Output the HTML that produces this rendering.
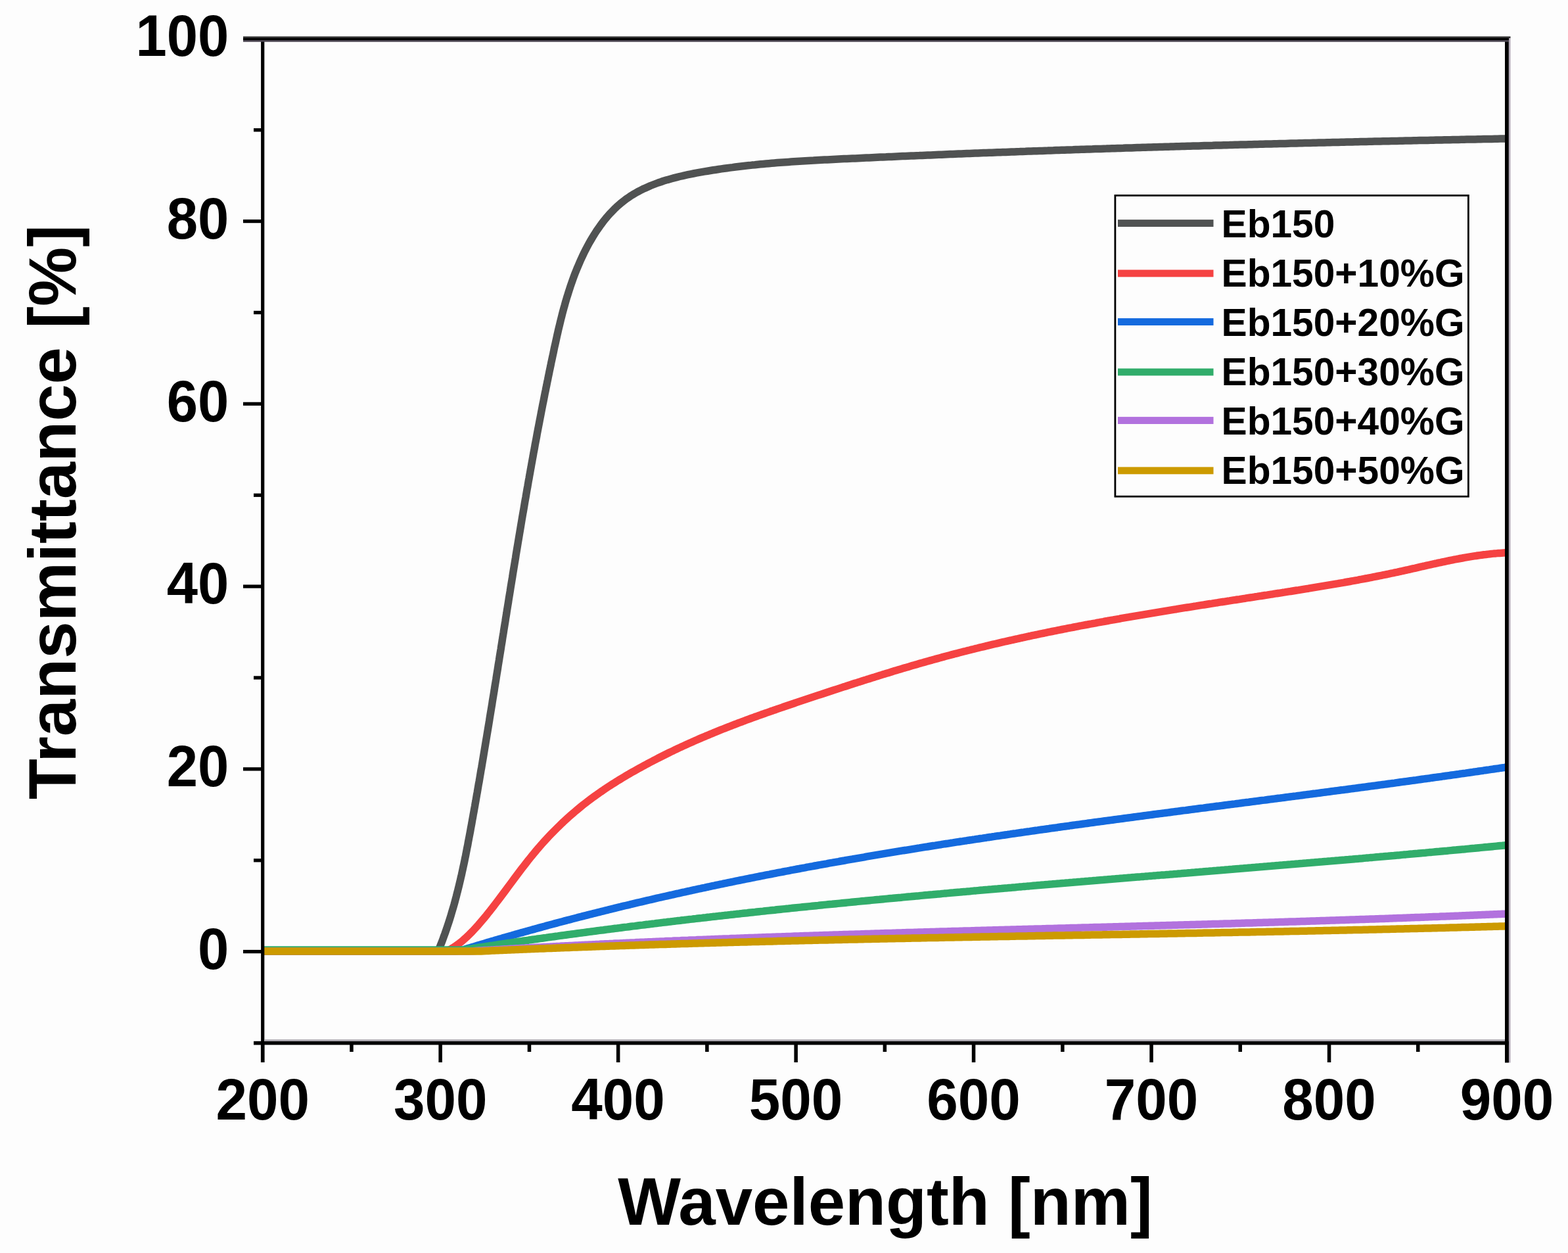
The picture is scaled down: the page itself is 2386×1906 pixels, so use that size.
<!DOCTYPE html>
<html><head><meta charset="utf-8"><title>Transmittance vs Wavelength</title>
<style>
html,body{margin:0;padding:0;background:#fff;}
body{width:2386px;height:1906px;overflow:hidden;}
svg{display:block;}
text{font-family:"Liberation Sans",Arial,Helvetica,sans-serif;font-weight:bold;fill:#000;}
</style></head>
<body>
<svg width="2386" height="1906" viewBox="0 0 2386 1906">
<rect x="0" y="0" width="2386" height="1906" fill="#fdfdfd"/>
<defs><clipPath id="pc"><rect x="399.7" y="59.5" width="1893.3" height="1527.1"/></clipPath></defs>
<g clip-path="url(#pc)" fill="none" stroke-width="11.5" stroke-linejoin="round" stroke-linecap="butt">
<path d="M399.0,1447.0 L661.0,1447.0 L667.7,1444.4 L669.3,1440.5 L670.9,1436.5 L672.5,1432.5 L674.0,1428.5 L675.4,1424.5 L676.9,1420.5 L678.3,1416.5 L679.7,1412.5 L681.0,1408.5 L682.4,1404.4 L683.7,1400.4 L685.0,1396.3 L686.2,1392.3 L687.4,1388.2 L688.6,1384.2 L689.8,1380.1 L691.0,1376.0 L692.1,1371.9 L693.2,1367.8 L694.3,1363.7 L695.3,1359.6 L696.4,1355.5 L697.4,1351.4 L698.4,1347.3 L699.4,1343.2 L700.4,1339.0 L701.3,1334.9 L702.3,1330.8 L703.2,1326.6 L704.1,1322.5 L705.0,1318.3 L705.9,1314.2 L706.8,1310.0 L707.6,1305.9 L708.5,1301.7 L709.3,1297.5 L710.1,1293.4 L710.9,1289.2 L711.8,1285.0 L712.5,1280.8 L713.3,1276.7 L714.1,1272.5 L714.9,1268.3 L715.7,1264.1 L716.4,1260.0 L717.2,1255.8 L718.0,1251.6 L718.7,1247.4 L719.5,1243.2 L720.2,1239.0 L721.0,1234.8 L721.7,1230.7 L722.5,1226.5 L723.2,1222.3 L724.0,1218.1 L724.7,1213.9 L725.4,1209.7 L726.2,1205.5 L726.9,1201.3 L727.6,1197.1 L728.3,1192.9 L729.1,1188.8 L729.8,1184.6 L730.5,1180.4 L731.2,1176.2 L731.9,1172.0 L732.7,1167.8 L733.4,1163.6 L734.1,1159.4 L734.8,1155.2 L735.5,1151.0 L736.2,1146.8 L736.9,1142.6 L737.6,1138.4 L738.3,1134.2 L739.0,1130.0 L739.7,1125.8 L740.4,1121.6 L741.1,1117.4 L741.8,1113.2 L742.5,1109.0 L743.2,1104.8 L743.9,1100.6 L744.6,1096.4 L745.2,1092.2 L745.9,1088.0 L746.6,1083.8 L747.3,1079.6 L748.0,1075.4 L748.7,1071.2 L749.3,1067.0 L750.0,1062.8 L750.7,1058.6 L751.4,1054.4 L752.1,1050.2 L752.7,1046.0 L753.4,1041.8 L754.1,1037.6 L754.8,1033.4 L755.4,1029.2 L756.1,1024.9 L756.8,1020.7 L757.5,1016.5 L758.1,1012.3 L758.8,1008.1 L759.5,1003.9 L760.1,999.7 L760.8,995.5 L761.5,991.3 L762.2,987.1 L762.8,982.9 L763.5,978.7 L764.2,974.5 L764.8,970.3 L765.5,966.1 L766.2,961.9 L766.8,957.7 L767.5,953.5 L768.2,949.3 L768.9,945.1 L769.5,940.9 L770.2,936.7 L770.9,932.5 L771.5,928.3 L772.2,924.1 L772.9,919.9 L773.6,915.7 L774.2,911.5 L774.9,907.3 L775.6,903.1 L776.3,898.9 L776.9,894.7 L777.6,890.5 L778.3,886.3 L779.0,882.1 L779.7,877.9 L780.3,873.7 L781.0,869.5 L781.7,865.3 L782.4,861.1 L783.1,856.9 L783.8,852.8 L784.5,848.6 L785.1,844.4 L785.8,840.2 L786.5,836.0 L787.2,831.8 L787.9,827.6 L788.6,823.4 L789.3,819.2 L790.0,815.0 L790.7,810.9 L791.4,806.7 L792.1,802.5 L792.8,798.3 L793.5,794.1 L794.2,789.9 L794.9,785.7 L795.6,781.6 L796.4,777.4 L797.1,773.2 L797.8,769.0 L798.5,764.8 L799.2,760.7 L800.0,756.5 L800.7,752.3 L801.4,748.1 L802.1,744.0 L802.9,739.8 L803.6,735.6 L804.3,731.4 L805.1,727.3 L805.8,723.1 L806.6,718.9 L807.3,714.7 L808.1,710.6 L808.8,706.4 L809.6,702.2 L810.3,698.1 L811.1,693.9 L811.8,689.7 L812.6,685.6 L813.4,681.4 L814.1,677.2 L814.9,673.0 L815.7,668.9 L816.5,664.7 L817.2,660.5 L818.0,656.4 L818.8,652.2 L819.6,648.0 L820.4,643.9 L821.2,639.7 L822.0,635.5 L822.8,631.4 L823.6,627.2 L824.4,623.0 L825.2,618.9 L826.0,614.7 L826.9,610.5 L827.7,606.4 L828.5,602.2 L829.3,598.0 L830.2,593.9 L831.0,589.7 L831.9,585.5 L832.7,581.3 L833.6,577.2 L834.4,573.0 L835.3,568.8 L836.1,564.7 L837.0,560.5 L837.9,556.3 L838.7,552.1 L839.6,548.0 L840.5,543.8 L841.4,539.6 L842.3,535.5 L843.1,531.3 L844.0,527.1 L845.0,522.9 L845.9,518.8 L846.8,514.6 L847.7,510.4 L848.7,506.2 L849.6,502.1 L850.6,497.9 L851.6,493.8 L852.6,489.6 L853.6,485.5 L854.7,481.3 L855.7,477.2 L856.8,473.0 L857.9,468.9 L859.1,464.8 L860.2,460.7 L861.4,456.6 L862.6,452.5 L863.9,448.4 L865.2,444.3 L866.5,440.3 L867.8,436.2 L869.2,432.2 L870.6,428.1 L872.0,424.1 L873.5,420.1 L875.0,416.1 L876.6,412.1 L878.2,408.1 L879.9,404.2 L881.6,400.2 L883.3,396.3 L885.1,392.4 L886.9,388.5 L888.8,384.6 L890.7,380.7 L892.7,376.9 L894.7,373.1 L896.8,369.3 L899.0,365.5 L901.2,361.8 L903.4,358.1 L905.7,354.5 L908.0,350.9 L910.5,347.4 L912.9,343.9 L915.4,340.5 L918.0,337.1 L920.6,333.8 L923.3,330.5 L926.1,327.3 L928.9,324.2 L931.8,321.2 L934.7,318.2 L937.7,315.3 L940.8,312.5 L943.9,309.8 L947.1,307.2 L950.3,304.7 L953.6,302.2 L957.0,299.9 L960.4,297.6 L963.9,295.5 L967.5,293.4 L971.1,291.4 L974.7,289.5 L978.4,287.6 L982.2,285.9 L986.0,284.2 L989.8,282.5 L993.7,281.0 L997.6,279.5 L1001.5,278.0 L1005.5,276.7 L1009.5,275.3 L1013.6,274.1 L1017.7,272.9 L1021.8,271.7 L1025.9,270.6 L1030.0,269.6 L1034.2,268.5 L1038.4,267.6 L1042.6,266.6 L1046.8,265.7 L1051.0,264.8 L1055.2,264.0 L1059.5,263.2 L1063.7,262.4 L1068.0,261.6 L1072.2,260.9 L1076.5,260.2 L1080.7,259.5 L1085.0,258.8 L1089.2,258.2 L1093.5,257.5 L1097.7,256.9 L1102.0,256.3 L1106.2,255.7 L1110.5,255.1 L1114.7,254.6 L1118.9,254.0 L1123.2,253.5 L1127.4,253.0 L1131.7,252.5 L1135.9,252.0 L1140.2,251.6 L1144.4,251.1 L1148.7,250.7 L1152.9,250.2 L1157.1,249.8 L1161.4,249.4 L1165.6,249.1 L1169.9,248.7 L1174.1,248.3 L1178.3,248.0 L1182.6,247.6 L1186.8,247.3 L1191.1,247.0 L1195.3,246.7 L1199.5,246.4 L1203.8,246.1 L1208.0,245.8 L1212.3,245.5 L1216.5,245.2 L1220.7,245.0 L1225.0,244.7 L1229.2,244.5 L1233.5,244.2 L1237.7,244.0 L1241.9,243.7 L1246.2,243.5 L1250.4,243.3 L1254.7,243.1 L1258.9,242.9 L1263.1,242.7 L1267.4,242.4 L1271.6,242.2 L1275.9,242.0 L1280.1,241.8 L1284.3,241.6 L1288.6,241.4 L1292.8,241.2 L1297.1,241.0 L1301.3,240.9 L1305.5,240.7 L1309.8,240.5 L1314.0,240.3 L1318.3,240.1 L1322.5,239.9 L1326.8,239.7 L1331.0,239.5 L1335.2,239.3 L1339.5,239.1 L1343.7,238.9 L1348.0,238.8 L1352.2,238.6 L1356.5,238.4 L1360.7,238.2 L1364.9,238.0 L1369.2,237.8 L1373.4,237.6 L1377.7,237.5 L1381.9,237.3 L1386.2,237.1 L1390.4,236.9 L1394.7,236.7 L1398.9,236.6 L1403.1,236.4 L1407.4,236.2 L1411.6,236.0 L1415.9,235.9 L1420.1,235.7 L1424.4,235.5 L1428.6,235.3 L1432.9,235.2 L1437.1,235.0 L1441.4,234.8 L1445.6,234.6 L1449.8,234.5 L1454.1,234.3 L1458.3,234.1 L1462.6,234.0 L1466.8,233.8 L1471.1,233.6 L1475.3,233.5 L1479.6,233.3 L1483.8,233.1 L1488.1,233.0 L1492.3,232.8 L1496.6,232.6 L1500.8,232.5 L1505.1,232.3 L1509.3,232.2 L1513.6,232.0 L1517.8,231.8 L1522.1,231.7 L1526.3,231.5 L1530.6,231.4 L1534.8,231.2 L1539.0,231.0 L1543.3,230.9 L1547.5,230.7 L1551.8,230.6 L1556.0,230.4 L1560.3,230.3 L1564.5,230.1 L1568.8,230.0 L1573.0,229.8 L1577.3,229.7 L1581.5,229.5 L1585.8,229.4 L1590.0,229.2 L1594.3,229.1 L1598.5,228.9 L1602.8,228.8 L1607.0,228.6 L1611.3,228.5 L1615.5,228.3 L1619.8,228.2 L1624.0,228.0 L1628.3,227.9 L1632.5,227.8 L1636.8,227.6 L1641.0,227.5 L1645.3,227.3 L1649.5,227.2 L1653.8,227.0 L1658.0,226.9 L1662.3,226.8 L1666.6,226.6 L1670.8,226.5 L1675.1,226.4 L1679.3,226.2 L1683.6,226.1 L1687.8,225.9 L1692.1,225.8 L1696.3,225.7 L1700.6,225.5 L1704.8,225.4 L1709.1,225.3 L1713.3,225.1 L1717.6,225.0 L1721.8,224.9 L1726.1,224.7 L1730.3,224.6 L1734.6,224.5 L1738.8,224.3 L1743.1,224.2 L1747.3,224.1 L1751.6,224.0 L1755.8,223.8 L1760.1,223.7 L1764.3,223.6 L1768.6,223.5 L1772.8,223.3 L1777.1,223.2 L1781.4,223.1 L1785.6,223.0 L1789.9,222.8 L1794.1,222.7 L1798.4,222.6 L1802.6,222.5 L1806.9,222.3 L1811.1,222.2 L1815.4,222.1 L1819.6,222.0 L1823.9,221.9 L1828.1,221.7 L1832.4,221.6 L1836.6,221.5 L1840.9,221.4 L1845.1,221.3 L1849.4,221.1 L1853.6,221.0 L1857.9,220.9 L1862.2,220.8 L1866.4,220.7 L1870.7,220.6 L1874.9,220.4 L1879.2,220.3 L1883.4,220.2 L1887.7,220.1 L1891.9,220.0 L1896.2,219.9 L1900.4,219.8 L1904.7,219.7 L1908.9,219.5 L1913.2,219.4 L1917.4,219.3 L1921.7,219.2 L1925.9,219.1 L1930.2,219.0 L1934.4,218.9 L1938.7,218.8 L1942.9,218.7 L1947.2,218.6 L1951.5,218.5 L1955.7,218.4 L1960.0,218.2 L1964.2,218.1 L1968.5,218.0 L1972.7,217.9 L1977.0,217.8 L1981.2,217.7 L1985.5,217.6 L1989.7,217.5 L1994.0,217.4 L1998.2,217.3 L2002.5,217.2 L2006.7,217.1 L2011.0,217.0 L2015.2,216.9 L2019.5,216.8 L2023.7,216.7 L2028.0,216.6 L2032.2,216.5 L2036.5,216.4 L2040.7,216.3 L2045.0,216.2 L2049.3,216.1 L2053.5,216.0 L2057.8,215.9 L2062.0,215.8 L2066.3,215.7 L2070.5,215.6 L2074.8,215.5 L2079.0,215.4 L2083.3,215.3 L2087.5,215.2 L2091.8,215.1 L2096.0,215.0 L2100.3,214.9 L2104.5,214.8 L2108.8,214.7 L2113.0,214.7 L2117.3,214.6 L2121.5,214.5 L2125.8,214.4 L2130.0,214.3 L2134.3,214.2 L2138.5,214.1 L2142.8,214.0 L2147.0,213.9 L2151.3,213.8 L2155.5,213.7 L2159.8,213.6 L2164.0,213.6 L2168.3,213.5 L2172.5,213.4 L2176.8,213.3 L2181.0,213.2 L2185.3,213.1 L2189.5,213.0 L2193.8,212.9 L2198.0,212.8 L2202.3,212.7 L2206.5,212.7 L2210.8,212.6 L2215.0,212.5 L2219.3,212.4 L2223.5,212.3 L2227.8,212.2 L2232.0,212.1 L2236.2,212.1 L2240.5,212.0 L2244.7,211.9 L2249.0,211.8 L2253.2,211.7 L2257.5,211.6 L2261.7,211.5 L2266.0,211.5 L2270.2,211.4 L2274.5,211.3 L2278.7,211.2 L2283.0,211.1 L2287.2,211.0 L2291.5,211.0 L2295.7,210.9 L2300.0,210.8" stroke="#505252"/>
<path d="M399.0,1447.0 L672.0,1447.0 L680.0,1446.5 L683.0,1445.1 L686.0,1443.6 L689.0,1441.8 L692.0,1439.9 L695.0,1437.8 L698.0,1435.6 L701.0,1433.3 L704.0,1430.8 L707.0,1428.2 L710.0,1425.5 L713.0,1422.6 L716.0,1419.6 L719.0,1416.6 L722.0,1413.4 L725.0,1410.1 L728.0,1406.8 L731.0,1403.3 L734.0,1399.8 L737.0,1396.2 L740.0,1392.6 L743.0,1388.8 L746.0,1385.1 L749.0,1381.2 L752.0,1377.4 L755.0,1373.4 L758.0,1369.5 L761.0,1365.5 L764.0,1361.5 L767.0,1357.5 L770.0,1353.5 L773.0,1349.4 L776.0,1345.4 L779.0,1341.3 L782.0,1337.3 L785.0,1333.3 L788.0,1329.3 L791.0,1325.3 L794.0,1321.3 L797.0,1317.4 L800.0,1313.6 L803.0,1309.7 L806.0,1306.0 L809.0,1302.2 L812.0,1298.6 L815.0,1295.0 L818.0,1291.4 L821.0,1288.0 L824.0,1284.5 L827.0,1281.2 L830.0,1277.9 L833.0,1274.6 L836.0,1271.4 L839.0,1268.3 L842.0,1265.2 L845.0,1262.2 L848.0,1259.2 L851.0,1256.3 L854.0,1253.4 L857.0,1250.5 L860.0,1247.8 L863.0,1245.0 L866.0,1242.3 L869.0,1239.7 L872.0,1237.1 L875.0,1234.5 L878.0,1232.0 L881.0,1229.5 L884.0,1227.0 L887.0,1224.6 L890.0,1222.3 L893.0,1219.9 L896.0,1217.7 L899.0,1215.4 L902.0,1213.2 L905.0,1211.0 L908.0,1208.8 L911.0,1206.7 L914.0,1204.6 L917.0,1202.6 L920.0,1200.5 L923.0,1198.5 L926.0,1196.5 L929.0,1194.6 L932.0,1192.7 L935.0,1190.8 L938.0,1188.9 L941.0,1187.0 L944.0,1185.2 L947.0,1183.4 L950.0,1181.6 L953.0,1179.8 L956.0,1178.1 L959.0,1176.3 L962.0,1174.6 L965.0,1172.9 L968.0,1171.2 L971.0,1169.5 L974.0,1167.9 L977.0,1166.2 L980.0,1164.6 L983.0,1163.0 L986.0,1161.4 L989.0,1159.8 L992.0,1158.2 L995.0,1156.6 L998.0,1155.1 L1001.0,1153.5 L1004.0,1152.0 L1007.0,1150.5 L1010.0,1149.0 L1013.0,1147.5 L1016.0,1146.0 L1019.0,1144.5 L1022.0,1143.1 L1025.0,1141.7 L1028.0,1140.2 L1031.0,1138.8 L1034.0,1137.4 L1037.0,1136.0 L1040.0,1134.6 L1043.0,1133.2 L1046.0,1131.9 L1049.0,1130.5 L1052.0,1129.2 L1055.0,1127.9 L1058.0,1126.5 L1061.0,1125.2 L1064.0,1123.9 L1067.0,1122.6 L1070.0,1121.3 L1073.0,1120.1 L1076.0,1118.8 L1079.0,1117.6 L1082.0,1116.3 L1085.0,1115.1 L1088.0,1113.8 L1091.0,1112.6 L1094.0,1111.4 L1097.0,1110.2 L1100.0,1109.0 L1103.0,1107.8 L1106.0,1106.6 L1109.0,1105.5 L1112.0,1104.3 L1115.0,1103.1 L1118.0,1102.0 L1121.0,1100.9 L1124.0,1099.7 L1127.0,1098.6 L1130.0,1097.5 L1133.0,1096.3 L1136.0,1095.2 L1139.0,1094.1 L1142.0,1093.0 L1145.0,1091.9 L1148.0,1090.8 L1151.0,1089.8 L1154.0,1088.7 L1157.0,1087.6 L1160.0,1086.5 L1163.0,1085.5 L1166.0,1084.4 L1169.0,1083.4 L1172.0,1082.3 L1175.0,1081.3 L1178.0,1080.2 L1181.0,1079.2 L1184.0,1078.1 L1187.0,1077.1 L1190.0,1076.1 L1193.0,1075.0 L1196.0,1074.0 L1199.0,1073.0 L1202.0,1072.0 L1205.0,1071.0 L1208.0,1070.0 L1211.0,1068.9 L1214.0,1067.9 L1217.0,1066.9 L1220.0,1065.9 L1223.0,1064.9 L1226.0,1063.9 L1229.0,1062.9 L1232.0,1061.9 L1235.0,1060.9 L1238.0,1059.9 L1241.0,1058.9 L1244.0,1057.9 L1247.0,1056.9 L1250.0,1056.0 L1253.0,1055.0 L1256.0,1054.0 L1259.0,1053.0 L1262.0,1052.0 L1265.0,1051.0 L1268.0,1050.0 L1271.0,1049.1 L1274.0,1048.1 L1277.0,1047.1 L1280.0,1046.1 L1283.0,1045.1 L1286.0,1044.2 L1289.0,1043.2 L1292.0,1042.2 L1295.0,1041.3 L1298.0,1040.3 L1301.0,1039.3 L1304.0,1038.4 L1307.0,1037.4 L1310.0,1036.5 L1313.0,1035.5 L1316.0,1034.6 L1319.0,1033.6 L1322.0,1032.7 L1325.0,1031.7 L1328.0,1030.8 L1331.0,1029.9 L1334.0,1028.9 L1337.0,1028.0 L1340.0,1027.1 L1343.0,1026.1 L1346.0,1025.2 L1349.0,1024.3 L1352.0,1023.4 L1355.0,1022.5 L1358.0,1021.5 L1361.0,1020.6 L1364.0,1019.7 L1367.0,1018.8 L1370.0,1017.9 L1373.0,1017.0 L1376.0,1016.1 L1379.0,1015.3 L1382.0,1014.4 L1385.0,1013.5 L1388.0,1012.6 L1391.0,1011.7 L1394.0,1010.9 L1397.0,1010.0 L1400.0,1009.1 L1403.0,1008.3 L1406.0,1007.4 L1409.0,1006.6 L1412.0,1005.7 L1415.0,1004.9 L1418.0,1004.1 L1421.0,1003.2 L1424.0,1002.4 L1427.0,1001.6 L1430.0,1000.8 L1433.0,999.9 L1436.0,999.1 L1439.0,998.3 L1442.0,997.5 L1445.0,996.7 L1448.0,995.9 L1451.0,995.1 L1454.0,994.3 L1457.0,993.6 L1460.0,992.8 L1463.0,992.0 L1466.0,991.2 L1469.0,990.5 L1472.0,989.7 L1475.0,989.0 L1478.0,988.2 L1481.0,987.5 L1484.0,986.7 L1487.0,986.0 L1490.0,985.2 L1493.0,984.5 L1496.0,983.8 L1499.0,983.1 L1502.0,982.3 L1505.0,981.6 L1508.0,980.9 L1511.0,980.2 L1514.0,979.5 L1517.0,978.8 L1520.0,978.1 L1523.0,977.4 L1526.0,976.7 L1529.0,976.0 L1532.0,975.3 L1535.0,974.6 L1538.0,974.0 L1541.0,973.3 L1544.0,972.6 L1547.0,972.0 L1550.0,971.3 L1553.0,970.6 L1556.0,970.0 L1559.0,969.3 L1562.0,968.7 L1565.0,968.0 L1568.0,967.4 L1571.0,966.7 L1574.0,966.1 L1577.0,965.5 L1580.0,964.8 L1583.0,964.2 L1586.0,963.6 L1589.0,963.0 L1592.0,962.3 L1595.0,961.7 L1598.0,961.1 L1601.0,960.5 L1604.0,959.9 L1607.0,959.3 L1610.0,958.7 L1613.0,958.1 L1616.0,957.5 L1619.0,956.9 L1622.0,956.3 L1625.0,955.7 L1628.0,955.1 L1631.0,954.6 L1634.0,954.0 L1637.0,953.4 L1640.0,952.8 L1643.0,952.2 L1646.0,951.7 L1649.0,951.1 L1652.0,950.5 L1655.0,950.0 L1658.0,949.4 L1661.0,948.9 L1664.0,948.3 L1667.0,947.8 L1670.0,947.2 L1673.0,946.7 L1676.0,946.1 L1679.0,945.6 L1682.0,945.0 L1685.0,944.5 L1688.0,943.9 L1691.0,943.4 L1694.0,942.9 L1697.0,942.3 L1700.0,941.8 L1703.0,941.3 L1706.0,940.7 L1709.0,940.2 L1712.0,939.7 L1715.0,939.2 L1718.0,938.7 L1721.0,938.1 L1724.0,937.6 L1727.0,937.1 L1730.0,936.6 L1733.0,936.1 L1736.0,935.6 L1739.0,935.1 L1742.0,934.6 L1745.0,934.1 L1748.0,933.6 L1751.0,933.1 L1754.0,932.6 L1757.0,932.1 L1760.0,931.6 L1763.0,931.1 L1766.0,930.6 L1769.0,930.1 L1772.0,929.6 L1775.0,929.1 L1778.0,928.6 L1781.0,928.1 L1784.0,927.6 L1787.0,927.1 L1790.0,926.7 L1793.0,926.2 L1796.0,925.7 L1799.0,925.2 L1802.0,924.7 L1805.0,924.2 L1808.0,923.8 L1811.0,923.3 L1814.0,922.8 L1817.0,922.3 L1820.0,921.9 L1823.0,921.4 L1826.0,920.9 L1829.0,920.4 L1832.0,920.0 L1835.0,919.5 L1838.0,919.0 L1841.0,918.5 L1844.0,918.1 L1847.0,917.6 L1850.0,917.1 L1853.0,916.7 L1856.0,916.2 L1859.0,915.7 L1862.0,915.3 L1865.0,914.8 L1868.0,914.3 L1871.0,913.9 L1874.0,913.4 L1877.0,912.9 L1880.0,912.5 L1883.0,912.0 L1886.0,911.6 L1889.0,911.1 L1892.0,910.6 L1895.0,910.2 L1898.0,909.7 L1901.0,909.2 L1904.0,908.8 L1907.0,908.3 L1910.0,907.8 L1913.0,907.4 L1916.0,906.9 L1919.0,906.5 L1922.0,906.0 L1925.0,905.5 L1928.0,905.1 L1931.0,904.6 L1934.0,904.1 L1937.0,903.7 L1940.0,903.2 L1943.0,902.7 L1946.0,902.3 L1949.0,901.8 L1952.0,901.3 L1955.0,900.9 L1958.0,900.4 L1961.0,899.9 L1964.0,899.5 L1967.0,899.0 L1970.0,898.5 L1973.0,898.0 L1976.0,897.6 L1979.0,897.1 L1982.0,896.6 L1985.0,896.1 L1988.0,895.6 L1991.0,895.2 L1994.0,894.7 L1997.0,894.2 L2000.0,893.7 L2003.0,893.2 L2006.0,892.7 L2009.0,892.2 L2012.0,891.7 L2015.0,891.2 L2018.0,890.7 L2021.0,890.2 L2024.0,889.7 L2027.0,889.2 L2030.0,888.7 L2033.0,888.2 L2036.0,887.7 L2039.0,887.1 L2042.0,886.6 L2045.0,886.1 L2048.0,885.5 L2051.0,885.0 L2054.0,884.5 L2057.0,883.9 L2060.0,883.4 L2063.0,882.8 L2066.0,882.3 L2069.0,881.7 L2072.0,881.2 L2075.0,880.6 L2078.0,880.0 L2081.0,879.5 L2084.0,878.9 L2087.0,878.3 L2090.0,877.7 L2093.0,877.1 L2096.0,876.5 L2099.0,875.9 L2102.0,875.3 L2105.0,874.7 L2108.0,874.1 L2111.0,873.5 L2114.0,872.8 L2117.0,872.2 L2120.0,871.6 L2123.0,870.9 L2126.0,870.3 L2129.0,869.6 L2132.0,869.0 L2135.0,868.3 L2138.0,867.6 L2141.0,867.0 L2144.0,866.3 L2147.0,865.6 L2150.0,864.9 L2153.0,864.3 L2156.0,863.6 L2159.0,862.9 L2162.0,862.2 L2165.0,861.5 L2168.0,860.9 L2171.0,860.2 L2174.0,859.5 L2177.0,858.8 L2180.0,858.2 L2183.0,857.5 L2186.0,856.9 L2189.0,856.2 L2192.0,855.6 L2195.0,854.9 L2198.0,854.3 L2201.0,853.7 L2204.0,853.0 L2207.0,852.4 L2210.0,851.8 L2213.0,851.2 L2216.0,850.7 L2219.0,850.1 L2222.0,849.5 L2225.0,849.0 L2228.0,848.4 L2231.0,847.9 L2234.0,847.4 L2237.0,846.9 L2240.0,846.4 L2243.0,845.9 L2246.0,845.5 L2249.0,845.0 L2252.0,844.6 L2255.0,844.2 L2258.0,843.8 L2261.0,843.5 L2264.0,843.1 L2267.0,842.8 L2270.0,842.4 L2273.0,842.1 L2276.0,841.9 L2279.0,841.6 L2282.0,841.4 L2285.0,841.2 L2288.0,841.0 L2291.0,840.8 L2294.0,840.7 L2297.0,840.6 L2300.0,840.5" stroke="#f54242"/>
<path d="M399.0,1447.0 L692.0,1447.0 L700.0,1446.3 L703.0,1445.4 L706.0,1444.5 L709.0,1443.5 L712.0,1442.6 L715.0,1441.7 L718.0,1440.8 L721.0,1439.9 L724.0,1439.0 L727.0,1438.1 L730.0,1437.2 L733.0,1436.3 L736.0,1435.4 L739.0,1434.5 L742.0,1433.6 L745.0,1432.7 L748.0,1431.8 L751.0,1431.0 L754.0,1430.1 L757.0,1429.2 L760.0,1428.3 L763.0,1427.5 L766.0,1426.6 L769.0,1425.7 L772.0,1424.9 L775.0,1424.0 L778.0,1423.2 L781.0,1422.3 L784.0,1421.4 L787.0,1420.6 L790.0,1419.7 L793.0,1418.9 L796.0,1418.1 L799.0,1417.2 L802.0,1416.4 L805.0,1415.5 L808.0,1414.7 L811.0,1413.9 L814.0,1413.1 L817.0,1412.2 L820.0,1411.4 L823.0,1410.6 L826.0,1409.8 L829.0,1409.0 L832.0,1408.1 L835.0,1407.3 L838.0,1406.5 L841.0,1405.7 L844.0,1404.9 L847.0,1404.1 L850.0,1403.3 L853.0,1402.5 L856.0,1401.7 L859.0,1400.9 L862.0,1400.1 L865.0,1399.3 L868.0,1398.6 L871.0,1397.8 L874.0,1397.0 L877.0,1396.2 L880.0,1395.4 L883.0,1394.7 L886.0,1393.9 L889.0,1393.1 L892.0,1392.4 L895.0,1391.6 L898.0,1390.8 L901.0,1390.1 L904.0,1389.3 L907.0,1388.6 L910.0,1387.8 L913.0,1387.1 L916.0,1386.3 L919.0,1385.6 L922.0,1384.8 L925.0,1384.1 L928.0,1383.3 L931.0,1382.6 L934.0,1381.9 L937.0,1381.1 L940.0,1380.4 L943.0,1379.7 L946.0,1378.9 L949.0,1378.2 L952.0,1377.5 L955.0,1376.8 L958.0,1376.1 L961.0,1375.3 L964.0,1374.6 L967.0,1373.9 L970.0,1373.2 L973.0,1372.5 L976.0,1371.8 L979.0,1371.1 L982.0,1370.4 L985.0,1369.7 L988.0,1369.0 L991.0,1368.3 L994.0,1367.6 L997.0,1366.9 L1000.0,1366.2 L1003.0,1365.5 L1006.0,1364.8 L1009.0,1364.2 L1012.0,1363.5 L1015.0,1362.8 L1018.0,1362.1 L1021.0,1361.5 L1024.0,1360.8 L1027.0,1360.1 L1030.0,1359.4 L1033.0,1358.8 L1036.0,1358.1 L1039.0,1357.4 L1042.0,1356.8 L1045.0,1356.1 L1048.0,1355.5 L1051.0,1354.8 L1054.0,1354.1 L1057.0,1353.5 L1060.0,1352.8 L1063.0,1352.2 L1066.0,1351.6 L1069.0,1350.9 L1072.0,1350.3 L1075.0,1349.6 L1078.0,1349.0 L1081.0,1348.3 L1084.0,1347.7 L1087.0,1347.1 L1090.0,1346.4 L1093.0,1345.8 L1096.0,1345.2 L1099.0,1344.6 L1102.0,1343.9 L1105.0,1343.3 L1108.0,1342.7 L1111.0,1342.1 L1114.0,1341.5 L1117.0,1340.8 L1120.0,1340.2 L1123.0,1339.6 L1126.0,1339.0 L1129.0,1338.4 L1132.0,1337.8 L1135.0,1337.2 L1138.0,1336.6 L1141.0,1336.0 L1144.0,1335.4 L1147.0,1334.8 L1150.0,1334.2 L1153.0,1333.6 L1156.0,1333.0 L1159.0,1332.4 L1162.0,1331.8 L1165.0,1331.2 L1168.0,1330.6 L1171.0,1330.1 L1174.0,1329.5 L1177.0,1328.9 L1180.0,1328.3 L1183.0,1327.7 L1186.0,1327.1 L1189.0,1326.6 L1192.0,1326.0 L1195.0,1325.4 L1198.0,1324.9 L1201.0,1324.3 L1204.0,1323.7 L1207.0,1323.2 L1210.0,1322.6 L1213.0,1322.0 L1216.0,1321.5 L1219.0,1320.9 L1222.0,1320.3 L1225.0,1319.8 L1228.0,1319.2 L1231.0,1318.7 L1234.0,1318.1 L1237.0,1317.6 L1240.0,1317.0 L1243.0,1316.5 L1246.0,1315.9 L1249.0,1315.4 L1252.0,1314.8 L1255.0,1314.3 L1258.0,1313.8 L1261.0,1313.2 L1264.0,1312.7 L1267.0,1312.2 L1270.0,1311.6 L1273.0,1311.1 L1276.0,1310.6 L1279.0,1310.0 L1282.0,1309.5 L1285.0,1309.0 L1288.0,1308.4 L1291.0,1307.9 L1294.0,1307.4 L1297.0,1306.9 L1300.0,1306.3 L1303.0,1305.8 L1306.0,1305.3 L1309.0,1304.8 L1312.0,1304.3 L1315.0,1303.8 L1318.0,1303.2 L1321.0,1302.7 L1324.0,1302.2 L1327.0,1301.7 L1330.0,1301.2 L1333.0,1300.7 L1336.0,1300.2 L1339.0,1299.7 L1342.0,1299.2 L1345.0,1298.7 L1348.0,1298.2 L1351.0,1297.7 L1354.0,1297.2 L1357.0,1296.7 L1360.0,1296.2 L1363.0,1295.7 L1366.0,1295.2 L1369.0,1294.7 L1372.0,1294.2 L1375.0,1293.7 L1378.0,1293.3 L1381.0,1292.8 L1384.0,1292.3 L1387.0,1291.8 L1390.0,1291.3 L1393.0,1290.8 L1396.0,1290.3 L1399.0,1289.9 L1402.0,1289.4 L1405.0,1288.9 L1408.0,1288.4 L1411.0,1288.0 L1414.0,1287.5 L1417.0,1287.0 L1420.0,1286.5 L1423.0,1286.1 L1426.0,1285.6 L1429.0,1285.1 L1432.0,1284.7 L1435.0,1284.2 L1438.0,1283.7 L1441.0,1283.3 L1444.0,1282.8 L1447.0,1282.3 L1450.0,1281.9 L1453.0,1281.4 L1456.0,1280.9 L1459.0,1280.5 L1462.0,1280.0 L1465.0,1279.6 L1468.0,1279.1 L1471.0,1278.7 L1474.0,1278.2 L1477.0,1277.8 L1480.0,1277.3 L1483.0,1276.9 L1486.0,1276.4 L1489.0,1276.0 L1492.0,1275.5 L1495.0,1275.1 L1498.0,1274.6 L1501.0,1274.2 L1504.0,1273.7 L1507.0,1273.3 L1510.0,1272.8 L1513.0,1272.4 L1516.0,1271.9 L1519.0,1271.5 L1522.0,1271.1 L1525.0,1270.6 L1528.0,1270.2 L1531.0,1269.8 L1534.0,1269.3 L1537.0,1268.9 L1540.0,1268.4 L1543.0,1268.0 L1546.0,1267.6 L1549.0,1267.1 L1552.0,1266.7 L1555.0,1266.3 L1558.0,1265.9 L1561.0,1265.4 L1564.0,1265.0 L1567.0,1264.6 L1570.0,1264.1 L1573.0,1263.7 L1576.0,1263.3 L1579.0,1262.9 L1582.0,1262.4 L1585.0,1262.0 L1588.0,1261.6 L1591.0,1261.2 L1594.0,1260.8 L1597.0,1260.3 L1600.0,1259.9 L1603.0,1259.5 L1606.0,1259.1 L1609.0,1258.7 L1612.0,1258.2 L1615.0,1257.8 L1618.0,1257.4 L1621.0,1257.0 L1624.0,1256.6 L1627.0,1256.2 L1630.0,1255.7 L1633.0,1255.3 L1636.0,1254.9 L1639.0,1254.5 L1642.0,1254.1 L1645.0,1253.7 L1648.0,1253.3 L1651.0,1252.9 L1654.0,1252.5 L1657.0,1252.0 L1660.0,1251.6 L1663.0,1251.2 L1666.0,1250.8 L1669.0,1250.4 L1672.0,1250.0 L1675.0,1249.6 L1678.0,1249.2 L1681.0,1248.8 L1684.0,1248.4 L1687.0,1248.0 L1690.0,1247.6 L1693.0,1247.2 L1696.0,1246.8 L1699.0,1246.4 L1702.0,1246.0 L1705.0,1245.6 L1708.0,1245.2 L1711.0,1244.8 L1714.0,1244.4 L1717.0,1244.0 L1720.0,1243.6 L1723.0,1243.2 L1726.0,1242.8 L1729.0,1242.4 L1732.0,1242.0 L1735.0,1241.6 L1738.0,1241.2 L1741.0,1240.8 L1744.0,1240.4 L1747.0,1240.0 L1750.0,1239.6 L1753.0,1239.2 L1756.0,1238.8 L1759.0,1238.4 L1762.0,1238.0 L1765.0,1237.6 L1768.0,1237.3 L1771.0,1236.9 L1774.0,1236.5 L1777.0,1236.1 L1780.0,1235.7 L1783.0,1235.3 L1786.0,1234.9 L1789.0,1234.5 L1792.0,1234.1 L1795.0,1233.7 L1798.0,1233.3 L1801.0,1232.9 L1804.0,1232.6 L1807.0,1232.2 L1810.0,1231.8 L1813.0,1231.4 L1816.0,1231.0 L1819.0,1230.6 L1822.0,1230.2 L1825.0,1229.8 L1828.0,1229.4 L1831.0,1229.1 L1834.0,1228.7 L1837.0,1228.3 L1840.0,1227.9 L1843.0,1227.5 L1846.0,1227.1 L1849.0,1226.7 L1852.0,1226.3 L1855.0,1226.0 L1858.0,1225.6 L1861.0,1225.2 L1864.0,1224.8 L1867.0,1224.4 L1870.0,1224.0 L1873.0,1223.6 L1876.0,1223.2 L1879.0,1222.9 L1882.0,1222.5 L1885.0,1222.1 L1888.0,1221.7 L1891.0,1221.3 L1894.0,1220.9 L1897.0,1220.5 L1900.0,1220.2 L1903.0,1219.8 L1906.0,1219.4 L1909.0,1219.0 L1912.0,1218.6 L1915.0,1218.2 L1918.0,1217.8 L1921.0,1217.4 L1924.0,1217.1 L1927.0,1216.7 L1930.0,1216.3 L1933.0,1215.9 L1936.0,1215.5 L1939.0,1215.1 L1942.0,1214.7 L1945.0,1214.3 L1948.0,1214.0 L1951.0,1213.6 L1954.0,1213.2 L1957.0,1212.8 L1960.0,1212.4 L1963.0,1212.0 L1966.0,1211.6 L1969.0,1211.2 L1972.0,1210.9 L1975.0,1210.5 L1978.0,1210.1 L1981.0,1209.7 L1984.0,1209.3 L1987.0,1208.9 L1990.0,1208.5 L1993.0,1208.1 L1996.0,1207.7 L1999.0,1207.3 L2002.0,1207.0 L2005.0,1206.6 L2008.0,1206.2 L2011.0,1205.8 L2014.0,1205.4 L2017.0,1205.0 L2020.0,1204.6 L2023.0,1204.2 L2026.0,1203.8 L2029.0,1203.4 L2032.0,1203.0 L2035.0,1202.6 L2038.0,1202.2 L2041.0,1201.8 L2044.0,1201.5 L2047.0,1201.1 L2050.0,1200.7 L2053.0,1200.3 L2056.0,1199.9 L2059.0,1199.5 L2062.0,1199.1 L2065.0,1198.7 L2068.0,1198.3 L2071.0,1197.9 L2074.0,1197.5 L2077.0,1197.1 L2080.0,1196.7 L2083.0,1196.3 L2086.0,1195.9 L2089.0,1195.5 L2092.0,1195.1 L2095.0,1194.7 L2098.0,1194.3 L2101.0,1193.9 L2104.0,1193.5 L2107.0,1193.1 L2110.0,1192.7 L2113.0,1192.3 L2116.0,1191.9 L2119.0,1191.5 L2122.0,1191.1 L2125.0,1190.6 L2128.0,1190.2 L2131.0,1189.8 L2134.0,1189.4 L2137.0,1189.0 L2140.0,1188.6 L2143.0,1188.2 L2146.0,1187.8 L2149.0,1187.4 L2152.0,1187.0 L2155.0,1186.6 L2158.0,1186.1 L2161.0,1185.7 L2164.0,1185.3 L2167.0,1184.9 L2170.0,1184.5 L2173.0,1184.1 L2176.0,1183.7 L2179.0,1183.2 L2182.0,1182.8 L2185.0,1182.4 L2188.0,1182.0 L2191.0,1181.6 L2194.0,1181.2 L2197.0,1180.7 L2200.0,1180.3 L2203.0,1179.9 L2206.0,1179.5 L2209.0,1179.0 L2212.0,1178.6 L2215.0,1178.2 L2218.0,1177.8 L2221.0,1177.3 L2224.0,1176.9 L2227.0,1176.5 L2230.0,1176.1 L2233.0,1175.6 L2236.0,1175.2 L2239.0,1174.8 L2242.0,1174.3 L2245.0,1173.9 L2248.0,1173.5 L2251.0,1173.0 L2254.0,1172.6 L2257.0,1172.2 L2260.0,1171.7 L2263.0,1171.3 L2266.0,1170.9 L2269.0,1170.4 L2272.0,1170.0 L2275.0,1169.5 L2278.0,1169.1 L2281.0,1168.7 L2284.0,1168.2 L2287.0,1167.8 L2290.0,1167.3 L2293.0,1166.9 L2296.0,1166.4 L2299.0,1166.0" stroke="#146ade"/>
<path d="M399.0,1445.0 L697.0,1445.0 L705.0,1444.9 L708.0,1444.5 L711.0,1444.0 L714.0,1443.5 L717.0,1443.1 L720.0,1442.6 L723.0,1442.1 L726.0,1441.7 L729.0,1441.2 L732.0,1440.8 L735.0,1440.3 L738.0,1439.9 L741.0,1439.4 L744.0,1439.0 L747.0,1438.5 L750.0,1438.1 L753.0,1437.6 L756.0,1437.2 L759.0,1436.7 L762.0,1436.3 L765.0,1435.8 L768.0,1435.4 L771.0,1434.9 L774.0,1434.5 L777.0,1434.1 L780.0,1433.6 L783.0,1433.2 L786.0,1432.8 L789.0,1432.3 L792.0,1431.9 L795.0,1431.5 L798.0,1431.0 L801.0,1430.6 L804.0,1430.2 L807.0,1429.7 L810.0,1429.3 L813.0,1428.9 L816.0,1428.5 L819.0,1428.0 L822.0,1427.6 L825.0,1427.2 L828.0,1426.8 L831.0,1426.4 L834.0,1425.9 L837.0,1425.5 L840.0,1425.1 L843.0,1424.7 L846.0,1424.3 L849.0,1423.9 L852.0,1423.4 L855.0,1423.0 L858.0,1422.6 L861.0,1422.2 L864.0,1421.8 L867.0,1421.4 L870.0,1421.0 L873.0,1420.6 L876.0,1420.2 L879.0,1419.8 L882.0,1419.4 L885.0,1419.0 L888.0,1418.6 L891.0,1418.2 L894.0,1417.8 L897.0,1417.4 L900.0,1417.0 L903.0,1416.6 L906.0,1416.2 L909.0,1415.8 L912.0,1415.4 L915.0,1415.0 L918.0,1414.7 L921.0,1414.3 L924.0,1413.9 L927.0,1413.5 L930.0,1413.1 L933.0,1412.7 L936.0,1412.3 L939.0,1412.0 L942.0,1411.6 L945.0,1411.2 L948.0,1410.8 L951.0,1410.4 L954.0,1410.1 L957.0,1409.7 L960.0,1409.3 L963.0,1408.9 L966.0,1408.6 L969.0,1408.2 L972.0,1407.8 L975.0,1407.4 L978.0,1407.1 L981.0,1406.7 L984.0,1406.3 L987.0,1406.0 L990.0,1405.6 L993.0,1405.2 L996.0,1404.9 L999.0,1404.5 L1002.0,1404.1 L1005.0,1403.8 L1008.0,1403.4 L1011.0,1403.0 L1014.0,1402.7 L1017.0,1402.3 L1020.0,1402.0 L1023.0,1401.6 L1026.0,1401.3 L1029.0,1400.9 L1032.0,1400.5 L1035.0,1400.2 L1038.0,1399.8 L1041.0,1399.5 L1044.0,1399.1 L1047.0,1398.8 L1050.0,1398.4 L1053.0,1398.1 L1056.0,1397.7 L1059.0,1397.4 L1062.0,1397.0 L1065.0,1396.7 L1068.0,1396.4 L1071.0,1396.0 L1074.0,1395.7 L1077.0,1395.3 L1080.0,1395.0 L1083.0,1394.6 L1086.0,1394.3 L1089.0,1394.0 L1092.0,1393.6 L1095.0,1393.3 L1098.0,1393.0 L1101.0,1392.6 L1104.0,1392.3 L1107.0,1392.0 L1110.0,1391.6 L1113.0,1391.3 L1116.0,1391.0 L1119.0,1390.6 L1122.0,1390.3 L1125.0,1390.0 L1128.0,1389.6 L1131.0,1389.3 L1134.0,1389.0 L1137.0,1388.7 L1140.0,1388.3 L1143.0,1388.0 L1146.0,1387.7 L1149.0,1387.4 L1152.0,1387.0 L1155.0,1386.7 L1158.0,1386.4 L1161.0,1386.1 L1164.0,1385.7 L1167.0,1385.4 L1170.0,1385.1 L1173.0,1384.8 L1176.0,1384.5 L1179.0,1384.2 L1182.0,1383.8 L1185.0,1383.5 L1188.0,1383.2 L1191.0,1382.9 L1194.0,1382.6 L1197.0,1382.3 L1200.0,1382.0 L1203.0,1381.6 L1206.0,1381.3 L1209.0,1381.0 L1212.0,1380.7 L1215.0,1380.4 L1218.0,1380.1 L1221.0,1379.8 L1224.0,1379.5 L1227.0,1379.2 L1230.0,1378.9 L1233.0,1378.6 L1236.0,1378.3 L1239.0,1378.0 L1242.0,1377.7 L1245.0,1377.4 L1248.0,1377.0 L1251.0,1376.7 L1254.0,1376.4 L1257.0,1376.1 L1260.0,1375.8 L1263.0,1375.5 L1266.0,1375.3 L1269.0,1375.0 L1272.0,1374.7 L1275.0,1374.4 L1278.0,1374.1 L1281.0,1373.8 L1284.0,1373.5 L1287.0,1373.2 L1290.0,1372.9 L1293.0,1372.6 L1296.0,1372.3 L1299.0,1372.0 L1302.0,1371.7 L1305.0,1371.4 L1308.0,1371.1 L1311.0,1370.8 L1314.0,1370.6 L1317.0,1370.3 L1320.0,1370.0 L1323.0,1369.7 L1326.0,1369.4 L1329.0,1369.1 L1332.0,1368.8 L1335.0,1368.5 L1338.0,1368.3 L1341.0,1368.0 L1344.0,1367.7 L1347.0,1367.4 L1350.0,1367.1 L1353.0,1366.8 L1356.0,1366.6 L1359.0,1366.3 L1362.0,1366.0 L1365.0,1365.7 L1368.0,1365.4 L1371.0,1365.2 L1374.0,1364.9 L1377.0,1364.6 L1380.0,1364.3 L1383.0,1364.0 L1386.0,1363.8 L1389.0,1363.5 L1392.0,1363.2 L1395.0,1362.9 L1398.0,1362.7 L1401.0,1362.4 L1404.0,1362.1 L1407.0,1361.8 L1410.0,1361.6 L1413.0,1361.3 L1416.0,1361.0 L1419.0,1360.8 L1422.0,1360.5 L1425.0,1360.2 L1428.0,1359.9 L1431.0,1359.7 L1434.0,1359.4 L1437.0,1359.1 L1440.0,1358.9 L1443.0,1358.6 L1446.0,1358.3 L1449.0,1358.1 L1452.0,1357.8 L1455.0,1357.5 L1458.0,1357.2 L1461.0,1357.0 L1464.0,1356.7 L1467.0,1356.4 L1470.0,1356.2 L1473.0,1355.9 L1476.0,1355.7 L1479.0,1355.4 L1482.0,1355.1 L1485.0,1354.9 L1488.0,1354.6 L1491.0,1354.3 L1494.0,1354.1 L1497.0,1353.8 L1500.0,1353.5 L1503.0,1353.3 L1506.0,1353.0 L1509.0,1352.8 L1512.0,1352.5 L1515.0,1352.2 L1518.0,1352.0 L1521.0,1351.7 L1524.0,1351.5 L1527.0,1351.2 L1530.0,1350.9 L1533.0,1350.7 L1536.0,1350.4 L1539.0,1350.2 L1542.0,1349.9 L1545.0,1349.7 L1548.0,1349.4 L1551.0,1349.1 L1554.0,1348.9 L1557.0,1348.6 L1560.0,1348.4 L1563.0,1348.1 L1566.0,1347.9 L1569.0,1347.6 L1572.0,1347.3 L1575.0,1347.1 L1578.0,1346.8 L1581.0,1346.6 L1584.0,1346.3 L1587.0,1346.1 L1590.0,1345.8 L1593.0,1345.6 L1596.0,1345.3 L1599.0,1345.1 L1602.0,1344.8 L1605.0,1344.6 L1608.0,1344.3 L1611.0,1344.1 L1614.0,1343.8 L1617.0,1343.5 L1620.0,1343.3 L1623.0,1343.0 L1626.0,1342.8 L1629.0,1342.5 L1632.0,1342.3 L1635.0,1342.0 L1638.0,1341.8 L1641.0,1341.5 L1644.0,1341.3 L1647.0,1341.0 L1650.0,1340.8 L1653.0,1340.5 L1656.0,1340.3 L1659.0,1340.0 L1662.0,1339.8 L1665.0,1339.5 L1668.0,1339.3 L1671.0,1339.0 L1674.0,1338.8 L1677.0,1338.6 L1680.0,1338.3 L1683.0,1338.1 L1686.0,1337.8 L1689.0,1337.6 L1692.0,1337.3 L1695.0,1337.1 L1698.0,1336.8 L1701.0,1336.6 L1704.0,1336.3 L1707.0,1336.1 L1710.0,1335.8 L1713.0,1335.6 L1716.0,1335.3 L1719.0,1335.1 L1722.0,1334.8 L1725.0,1334.6 L1728.0,1334.3 L1731.0,1334.1 L1734.0,1333.9 L1737.0,1333.6 L1740.0,1333.4 L1743.0,1333.1 L1746.0,1332.9 L1749.0,1332.6 L1752.0,1332.4 L1755.0,1332.1 L1758.0,1331.9 L1761.0,1331.6 L1764.0,1331.4 L1767.0,1331.1 L1770.0,1330.9 L1773.0,1330.7 L1776.0,1330.4 L1779.0,1330.2 L1782.0,1329.9 L1785.0,1329.7 L1788.0,1329.4 L1791.0,1329.2 L1794.0,1328.9 L1797.0,1328.7 L1800.0,1328.4 L1803.0,1328.2 L1806.0,1328.0 L1809.0,1327.7 L1812.0,1327.5 L1815.0,1327.2 L1818.0,1327.0 L1821.0,1326.7 L1824.0,1326.5 L1827.0,1326.2 L1830.0,1326.0 L1833.0,1325.7 L1836.0,1325.5 L1839.0,1325.3 L1842.0,1325.0 L1845.0,1324.8 L1848.0,1324.5 L1851.0,1324.3 L1854.0,1324.0 L1857.0,1323.8 L1860.0,1323.5 L1863.0,1323.3 L1866.0,1323.0 L1869.0,1322.8 L1872.0,1322.5 L1875.0,1322.3 L1878.0,1322.0 L1881.0,1321.8 L1884.0,1321.6 L1887.0,1321.3 L1890.0,1321.1 L1893.0,1320.8 L1896.0,1320.6 L1899.0,1320.3 L1902.0,1320.1 L1905.0,1319.8 L1908.0,1319.6 L1911.0,1319.3 L1914.0,1319.1 L1917.0,1318.8 L1920.0,1318.6 L1923.0,1318.3 L1926.0,1318.1 L1929.0,1317.8 L1932.0,1317.6 L1935.0,1317.3 L1938.0,1317.1 L1941.0,1316.8 L1944.0,1316.6 L1947.0,1316.3 L1950.0,1316.1 L1953.0,1315.8 L1956.0,1315.6 L1959.0,1315.3 L1962.0,1315.1 L1965.0,1314.8 L1968.0,1314.6 L1971.0,1314.3 L1974.0,1314.1 L1977.0,1313.8 L1980.0,1313.6 L1983.0,1313.3 L1986.0,1313.1 L1989.0,1312.8 L1992.0,1312.6 L1995.0,1312.3 L1998.0,1312.1 L2001.0,1311.8 L2004.0,1311.6 L2007.0,1311.3 L2010.0,1311.1 L2013.0,1310.8 L2016.0,1310.5 L2019.0,1310.3 L2022.0,1310.0 L2025.0,1309.8 L2028.0,1309.5 L2031.0,1309.3 L2034.0,1309.0 L2037.0,1308.8 L2040.0,1308.5 L2043.0,1308.2 L2046.0,1308.0 L2049.0,1307.7 L2052.0,1307.5 L2055.0,1307.2 L2058.0,1307.0 L2061.0,1306.7 L2064.0,1306.4 L2067.0,1306.2 L2070.0,1305.9 L2073.0,1305.7 L2076.0,1305.4 L2079.0,1305.1 L2082.0,1304.9 L2085.0,1304.6 L2088.0,1304.4 L2091.0,1304.1 L2094.0,1303.8 L2097.0,1303.6 L2100.0,1303.3 L2103.0,1303.1 L2106.0,1302.8 L2109.0,1302.5 L2112.0,1302.3 L2115.0,1302.0 L2118.0,1301.7 L2121.0,1301.5 L2124.0,1301.2 L2127.0,1300.9 L2130.0,1300.7 L2133.0,1300.4 L2136.0,1300.1 L2139.0,1299.9 L2142.0,1299.6 L2145.0,1299.3 L2148.0,1299.1 L2151.0,1298.8 L2154.0,1298.5 L2157.0,1298.3 L2160.0,1298.0 L2163.0,1297.7 L2166.0,1297.4 L2169.0,1297.2 L2172.0,1296.9 L2175.0,1296.6 L2178.0,1296.4 L2181.0,1296.1 L2184.0,1295.8 L2187.0,1295.5 L2190.0,1295.3 L2193.0,1295.0 L2196.0,1294.7 L2199.0,1294.4 L2202.0,1294.2 L2205.0,1293.9 L2208.0,1293.6 L2211.0,1293.3 L2214.0,1293.1 L2217.0,1292.8 L2220.0,1292.5 L2223.0,1292.2 L2226.0,1291.9 L2229.0,1291.7 L2232.0,1291.4 L2235.0,1291.1 L2238.0,1290.8 L2241.0,1290.5 L2244.0,1290.3 L2247.0,1290.0 L2250.0,1289.7 L2253.0,1289.4 L2256.0,1289.1 L2259.0,1288.8 L2262.0,1288.6 L2265.0,1288.3 L2268.0,1288.0 L2271.0,1287.7 L2274.0,1287.4 L2277.0,1287.1 L2280.0,1286.8 L2283.0,1286.5 L2286.0,1286.3 L2289.0,1286.0 L2292.0,1285.7 L2295.0,1285.4 L2298.0,1285.1" stroke="#31ad6b"/>
<path d="M399.0,1447.0 L712.0,1447.0 L720.0,1446.7 L723.0,1446.5 L726.0,1446.3 L729.0,1446.1 L732.0,1446.0 L735.0,1445.8 L738.0,1445.6 L741.0,1445.4 L744.0,1445.2 L747.0,1445.1 L750.0,1444.9 L753.0,1444.7 L756.0,1444.5 L759.0,1444.4 L762.0,1444.2 L765.0,1444.0 L768.0,1443.8 L771.0,1443.7 L774.0,1443.5 L777.0,1443.3 L780.0,1443.2 L783.0,1443.0 L786.0,1442.8 L789.0,1442.7 L792.0,1442.5 L795.0,1442.3 L798.0,1442.2 L801.0,1442.0 L804.0,1441.8 L807.0,1441.7 L810.0,1441.5 L813.0,1441.3 L816.0,1441.2 L819.0,1441.0 L822.0,1440.9 L825.0,1440.7 L828.0,1440.5 L831.0,1440.4 L834.0,1440.2 L837.0,1440.1 L840.0,1439.9 L843.0,1439.7 L846.0,1439.6 L849.0,1439.4 L852.0,1439.3 L855.0,1439.1 L858.0,1439.0 L861.0,1438.8 L864.0,1438.7 L867.0,1438.5 L870.0,1438.4 L873.0,1438.2 L876.0,1438.0 L879.0,1437.9 L882.0,1437.7 L885.0,1437.6 L888.0,1437.4 L891.0,1437.3 L894.0,1437.2 L897.0,1437.0 L900.0,1436.9 L903.0,1436.7 L906.0,1436.6 L909.0,1436.4 L912.0,1436.3 L915.0,1436.1 L918.0,1436.0 L921.0,1435.8 L924.0,1435.7 L927.0,1435.6 L930.0,1435.4 L933.0,1435.3 L936.0,1435.1 L939.0,1435.0 L942.0,1434.9 L945.0,1434.7 L948.0,1434.6 L951.0,1434.4 L954.0,1434.3 L957.0,1434.2 L960.0,1434.0 L963.0,1433.9 L966.0,1433.8 L969.0,1433.6 L972.0,1433.5 L975.0,1433.3 L978.0,1433.2 L981.0,1433.1 L984.0,1432.9 L987.0,1432.8 L990.0,1432.7 L993.0,1432.6 L996.0,1432.4 L999.0,1432.3 L1002.0,1432.2 L1005.0,1432.0 L1008.0,1431.9 L1011.0,1431.8 L1014.0,1431.6 L1017.0,1431.5 L1020.0,1431.4 L1023.0,1431.3 L1026.0,1431.1 L1029.0,1431.0 L1032.0,1430.9 L1035.0,1430.8 L1038.0,1430.6 L1041.0,1430.5 L1044.0,1430.4 L1047.0,1430.3 L1050.0,1430.1 L1053.0,1430.0 L1056.0,1429.9 L1059.0,1429.8 L1062.0,1429.6 L1065.0,1429.5 L1068.0,1429.4 L1071.0,1429.3 L1074.0,1429.2 L1077.0,1429.0 L1080.0,1428.9 L1083.0,1428.8 L1086.0,1428.7 L1089.0,1428.6 L1092.0,1428.5 L1095.0,1428.3 L1098.0,1428.2 L1101.0,1428.1 L1104.0,1428.0 L1107.0,1427.9 L1110.0,1427.8 L1113.0,1427.6 L1116.0,1427.5 L1119.0,1427.4 L1122.0,1427.3 L1125.0,1427.2 L1128.0,1427.1 L1131.0,1427.0 L1134.0,1426.8 L1137.0,1426.7 L1140.0,1426.6 L1143.0,1426.5 L1146.0,1426.4 L1149.0,1426.3 L1152.0,1426.2 L1155.0,1426.1 L1158.0,1426.0 L1161.0,1425.8 L1164.0,1425.7 L1167.0,1425.6 L1170.0,1425.5 L1173.0,1425.4 L1176.0,1425.3 L1179.0,1425.2 L1182.0,1425.1 L1185.0,1425.0 L1188.0,1424.9 L1191.0,1424.8 L1194.0,1424.7 L1197.0,1424.6 L1200.0,1424.5 L1203.0,1424.4 L1206.0,1424.2 L1209.0,1424.1 L1212.0,1424.0 L1215.0,1423.9 L1218.0,1423.8 L1221.0,1423.7 L1224.0,1423.6 L1227.0,1423.5 L1230.0,1423.4 L1233.0,1423.3 L1236.0,1423.2 L1239.0,1423.1 L1242.0,1423.0 L1245.0,1422.9 L1248.0,1422.8 L1251.0,1422.7 L1254.0,1422.6 L1257.0,1422.5 L1260.0,1422.4 L1263.0,1422.3 L1266.0,1422.2 L1269.0,1422.1 L1272.0,1422.0 L1275.0,1421.9 L1278.0,1421.8 L1281.0,1421.7 L1284.0,1421.6 L1287.0,1421.5 L1290.0,1421.4 L1293.0,1421.3 L1296.0,1421.2 L1299.0,1421.2 L1302.0,1421.1 L1305.0,1421.0 L1308.0,1420.9 L1311.0,1420.8 L1314.0,1420.7 L1317.0,1420.6 L1320.0,1420.5 L1323.0,1420.4 L1326.0,1420.3 L1329.0,1420.2 L1332.0,1420.1 L1335.0,1420.0 L1338.0,1419.9 L1341.0,1419.8 L1344.0,1419.7 L1347.0,1419.6 L1350.0,1419.6 L1353.0,1419.5 L1356.0,1419.4 L1359.0,1419.3 L1362.0,1419.2 L1365.0,1419.1 L1368.0,1419.0 L1371.0,1418.9 L1374.0,1418.8 L1377.0,1418.7 L1380.0,1418.6 L1383.0,1418.6 L1386.0,1418.5 L1389.0,1418.4 L1392.0,1418.3 L1395.0,1418.2 L1398.0,1418.1 L1401.0,1418.0 L1404.0,1417.9 L1407.0,1417.8 L1410.0,1417.8 L1413.0,1417.7 L1416.0,1417.6 L1419.0,1417.5 L1422.0,1417.4 L1425.0,1417.3 L1428.0,1417.2 L1431.0,1417.1 L1434.0,1417.1 L1437.0,1417.0 L1440.0,1416.9 L1443.0,1416.8 L1446.0,1416.7 L1449.0,1416.6 L1452.0,1416.5 L1455.0,1416.5 L1458.0,1416.4 L1461.0,1416.3 L1464.0,1416.2 L1467.0,1416.1 L1470.0,1416.0 L1473.0,1415.9 L1476.0,1415.9 L1479.0,1415.8 L1482.0,1415.7 L1485.0,1415.6 L1488.0,1415.5 L1491.0,1415.4 L1494.0,1415.3 L1497.0,1415.3 L1500.0,1415.2 L1503.0,1415.1 L1506.0,1415.0 L1509.0,1414.9 L1512.0,1414.8 L1515.0,1414.8 L1518.0,1414.7 L1521.0,1414.6 L1524.0,1414.5 L1527.0,1414.4 L1530.0,1414.3 L1533.0,1414.3 L1536.0,1414.2 L1539.0,1414.1 L1542.0,1414.0 L1545.0,1413.9 L1548.0,1413.8 L1551.0,1413.8 L1554.0,1413.7 L1557.0,1413.6 L1560.0,1413.5 L1563.0,1413.4 L1566.0,1413.3 L1569.0,1413.3 L1572.0,1413.2 L1575.0,1413.1 L1578.0,1413.0 L1581.0,1412.9 L1584.0,1412.9 L1587.0,1412.8 L1590.0,1412.7 L1593.0,1412.6 L1596.0,1412.5 L1599.0,1412.4 L1602.0,1412.4 L1605.0,1412.3 L1608.0,1412.2 L1611.0,1412.1 L1614.0,1412.0 L1617.0,1412.0 L1620.0,1411.9 L1623.0,1411.8 L1626.0,1411.7 L1629.0,1411.6 L1632.0,1411.5 L1635.0,1411.5 L1638.0,1411.4 L1641.0,1411.3 L1644.0,1411.2 L1647.0,1411.1 L1650.0,1411.1 L1653.0,1411.0 L1656.0,1410.9 L1659.0,1410.8 L1662.0,1410.7 L1665.0,1410.6 L1668.0,1410.6 L1671.0,1410.5 L1674.0,1410.4 L1677.0,1410.3 L1680.0,1410.2 L1683.0,1410.2 L1686.0,1410.1 L1689.0,1410.0 L1692.0,1409.9 L1695.0,1409.8 L1698.0,1409.7 L1701.0,1409.7 L1704.0,1409.6 L1707.0,1409.5 L1710.0,1409.4 L1713.0,1409.3 L1716.0,1409.2 L1719.0,1409.2 L1722.0,1409.1 L1725.0,1409.0 L1728.0,1408.9 L1731.0,1408.8 L1734.0,1408.8 L1737.0,1408.7 L1740.0,1408.6 L1743.0,1408.5 L1746.0,1408.4 L1749.0,1408.3 L1752.0,1408.3 L1755.0,1408.2 L1758.0,1408.1 L1761.0,1408.0 L1764.0,1407.9 L1767.0,1407.8 L1770.0,1407.8 L1773.0,1407.7 L1776.0,1407.6 L1779.0,1407.5 L1782.0,1407.4 L1785.0,1407.3 L1788.0,1407.3 L1791.0,1407.2 L1794.0,1407.1 L1797.0,1407.0 L1800.0,1406.9 L1803.0,1406.8 L1806.0,1406.8 L1809.0,1406.7 L1812.0,1406.6 L1815.0,1406.5 L1818.0,1406.4 L1821.0,1406.3 L1824.0,1406.2 L1827.0,1406.2 L1830.0,1406.1 L1833.0,1406.0 L1836.0,1405.9 L1839.0,1405.8 L1842.0,1405.7 L1845.0,1405.6 L1848.0,1405.6 L1851.0,1405.5 L1854.0,1405.4 L1857.0,1405.3 L1860.0,1405.2 L1863.0,1405.1 L1866.0,1405.0 L1869.0,1404.9 L1872.0,1404.9 L1875.0,1404.8 L1878.0,1404.7 L1881.0,1404.6 L1884.0,1404.5 L1887.0,1404.4 L1890.0,1404.3 L1893.0,1404.2 L1896.0,1404.1 L1899.0,1404.1 L1902.0,1404.0 L1905.0,1403.9 L1908.0,1403.8 L1911.0,1403.7 L1914.0,1403.6 L1917.0,1403.5 L1920.0,1403.4 L1923.0,1403.3 L1926.0,1403.3 L1929.0,1403.2 L1932.0,1403.1 L1935.0,1403.0 L1938.0,1402.9 L1941.0,1402.8 L1944.0,1402.7 L1947.0,1402.6 L1950.0,1402.5 L1953.0,1402.4 L1956.0,1402.3 L1959.0,1402.2 L1962.0,1402.1 L1965.0,1402.1 L1968.0,1402.0 L1971.0,1401.9 L1974.0,1401.8 L1977.0,1401.7 L1980.0,1401.6 L1983.0,1401.5 L1986.0,1401.4 L1989.0,1401.3 L1992.0,1401.2 L1995.0,1401.1 L1998.0,1401.0 L2001.0,1400.9 L2004.0,1400.8 L2007.0,1400.7 L2010.0,1400.6 L2013.0,1400.5 L2016.0,1400.4 L2019.0,1400.3 L2022.0,1400.2 L2025.0,1400.1 L2028.0,1400.0 L2031.0,1399.9 L2034.0,1399.8 L2037.0,1399.7 L2040.0,1399.6 L2043.0,1399.5 L2046.0,1399.4 L2049.0,1399.3 L2052.0,1399.2 L2055.0,1399.1 L2058.0,1399.0 L2061.0,1398.9 L2064.0,1398.8 L2067.0,1398.7 L2070.0,1398.6 L2073.0,1398.5 L2076.0,1398.4 L2079.0,1398.3 L2082.0,1398.2 L2085.0,1398.1 L2088.0,1398.0 L2091.0,1397.9 L2094.0,1397.8 L2097.0,1397.7 L2100.0,1397.6 L2103.0,1397.5 L2106.0,1397.4 L2109.0,1397.3 L2112.0,1397.2 L2115.0,1397.0 L2118.0,1396.9 L2121.0,1396.8 L2124.0,1396.7 L2127.0,1396.6 L2130.0,1396.5 L2133.0,1396.4 L2136.0,1396.3 L2139.0,1396.2 L2142.0,1396.1 L2145.0,1396.0 L2148.0,1395.8 L2151.0,1395.7 L2154.0,1395.6 L2157.0,1395.5 L2160.0,1395.4 L2163.0,1395.3 L2166.0,1395.2 L2169.0,1395.1 L2172.0,1394.9 L2175.0,1394.8 L2178.0,1394.7 L2181.0,1394.6 L2184.0,1394.5 L2187.0,1394.4 L2190.0,1394.3 L2193.0,1394.1 L2196.0,1394.0 L2199.0,1393.9 L2202.0,1393.8 L2205.0,1393.7 L2208.0,1393.5 L2211.0,1393.4 L2214.0,1393.3 L2217.0,1393.2 L2220.0,1393.1 L2223.0,1392.9 L2226.0,1392.8 L2229.0,1392.7 L2232.0,1392.6 L2235.0,1392.5 L2238.0,1392.3 L2241.0,1392.2 L2244.0,1392.1 L2247.0,1392.0 L2250.0,1391.8 L2253.0,1391.7 L2256.0,1391.6 L2259.0,1391.5 L2262.0,1391.3 L2265.0,1391.2 L2268.0,1391.1 L2271.0,1391.0 L2274.0,1390.8 L2277.0,1390.7 L2280.0,1390.6 L2283.0,1390.5 L2286.0,1390.3 L2289.0,1390.2 L2292.0,1390.1 L2295.0,1389.9 L2298.0,1389.8" stroke="#b272de"/>
<path d="M399.0,1447.0 L732.0,1447.0 L740.0,1446.5 L743.0,1446.4 L746.0,1446.2 L749.0,1446.1 L752.0,1446.0 L755.0,1445.8 L758.0,1445.7 L761.0,1445.6 L764.0,1445.5 L767.0,1445.3 L770.0,1445.2 L773.0,1445.1 L776.0,1444.9 L779.0,1444.8 L782.0,1444.7 L785.0,1444.6 L788.0,1444.4 L791.0,1444.3 L794.0,1444.2 L797.0,1444.1 L800.0,1444.0 L803.0,1443.8 L806.0,1443.7 L809.0,1443.6 L812.0,1443.5 L815.0,1443.3 L818.0,1443.2 L821.0,1443.1 L824.0,1443.0 L827.0,1442.9 L830.0,1442.7 L833.0,1442.6 L836.0,1442.5 L839.0,1442.4 L842.0,1442.3 L845.0,1442.2 L848.0,1442.0 L851.0,1441.9 L854.0,1441.8 L857.0,1441.7 L860.0,1441.6 L863.0,1441.5 L866.0,1441.4 L869.0,1441.3 L872.0,1441.1 L875.0,1441.0 L878.0,1440.9 L881.0,1440.8 L884.0,1440.7 L887.0,1440.6 L890.0,1440.5 L893.0,1440.4 L896.0,1440.3 L899.0,1440.2 L902.0,1440.0 L905.0,1439.9 L908.0,1439.8 L911.0,1439.7 L914.0,1439.6 L917.0,1439.5 L920.0,1439.4 L923.0,1439.3 L926.0,1439.2 L929.0,1439.1 L932.0,1439.0 L935.0,1438.9 L938.0,1438.8 L941.0,1438.7 L944.0,1438.6 L947.0,1438.5 L950.0,1438.4 L953.0,1438.3 L956.0,1438.2 L959.0,1438.1 L962.0,1438.0 L965.0,1437.9 L968.0,1437.8 L971.0,1437.7 L974.0,1437.6 L977.0,1437.5 L980.0,1437.4 L983.0,1437.3 L986.0,1437.2 L989.0,1437.1 L992.0,1437.0 L995.0,1436.9 L998.0,1436.8 L1001.0,1436.7 L1004.0,1436.6 L1007.0,1436.5 L1010.0,1436.5 L1013.0,1436.4 L1016.0,1436.3 L1019.0,1436.2 L1022.0,1436.1 L1025.0,1436.0 L1028.0,1435.9 L1031.0,1435.8 L1034.0,1435.7 L1037.0,1435.6 L1040.0,1435.5 L1043.0,1435.5 L1046.0,1435.4 L1049.0,1435.3 L1052.0,1435.2 L1055.0,1435.1 L1058.0,1435.0 L1061.0,1434.9 L1064.0,1434.8 L1067.0,1434.8 L1070.0,1434.7 L1073.0,1434.6 L1076.0,1434.5 L1079.0,1434.4 L1082.0,1434.3 L1085.0,1434.2 L1088.0,1434.2 L1091.0,1434.1 L1094.0,1434.0 L1097.0,1433.9 L1100.0,1433.8 L1103.0,1433.7 L1106.0,1433.7 L1109.0,1433.6 L1112.0,1433.5 L1115.0,1433.4 L1118.0,1433.3 L1121.0,1433.3 L1124.0,1433.2 L1127.0,1433.1 L1130.0,1433.0 L1133.0,1432.9 L1136.0,1432.9 L1139.0,1432.8 L1142.0,1432.7 L1145.0,1432.6 L1148.0,1432.5 L1151.0,1432.5 L1154.0,1432.4 L1157.0,1432.3 L1160.0,1432.2 L1163.0,1432.2 L1166.0,1432.1 L1169.0,1432.0 L1172.0,1431.9 L1175.0,1431.9 L1178.0,1431.8 L1181.0,1431.7 L1184.0,1431.6 L1187.0,1431.6 L1190.0,1431.5 L1193.0,1431.4 L1196.0,1431.3 L1199.0,1431.3 L1202.0,1431.2 L1205.0,1431.1 L1208.0,1431.0 L1211.0,1431.0 L1214.0,1430.9 L1217.0,1430.8 L1220.0,1430.8 L1223.0,1430.7 L1226.0,1430.6 L1229.0,1430.5 L1232.0,1430.5 L1235.0,1430.4 L1238.0,1430.3 L1241.0,1430.3 L1244.0,1430.2 L1247.0,1430.1 L1250.0,1430.1 L1253.0,1430.0 L1256.0,1429.9 L1259.0,1429.9 L1262.0,1429.8 L1265.0,1429.7 L1268.0,1429.7 L1271.0,1429.6 L1274.0,1429.5 L1277.0,1429.5 L1280.0,1429.4 L1283.0,1429.3 L1286.0,1429.3 L1289.0,1429.2 L1292.0,1429.1 L1295.0,1429.1 L1298.0,1429.0 L1301.0,1428.9 L1304.0,1428.9 L1307.0,1428.8 L1310.0,1428.7 L1313.0,1428.7 L1316.0,1428.6 L1319.0,1428.5 L1322.0,1428.5 L1325.0,1428.4 L1328.0,1428.3 L1331.0,1428.3 L1334.0,1428.2 L1337.0,1428.2 L1340.0,1428.1 L1343.0,1428.0 L1346.0,1428.0 L1349.0,1427.9 L1352.0,1427.8 L1355.0,1427.8 L1358.0,1427.7 L1361.0,1427.7 L1364.0,1427.6 L1367.0,1427.5 L1370.0,1427.5 L1373.0,1427.4 L1376.0,1427.4 L1379.0,1427.3 L1382.0,1427.2 L1385.0,1427.2 L1388.0,1427.1 L1391.0,1427.1 L1394.0,1427.0 L1397.0,1426.9 L1400.0,1426.9 L1403.0,1426.8 L1406.0,1426.8 L1409.0,1426.7 L1412.0,1426.6 L1415.0,1426.6 L1418.0,1426.5 L1421.0,1426.5 L1424.0,1426.4 L1427.0,1426.4 L1430.0,1426.3 L1433.0,1426.2 L1436.0,1426.2 L1439.0,1426.1 L1442.0,1426.1 L1445.0,1426.0 L1448.0,1426.0 L1451.0,1425.9 L1454.0,1425.8 L1457.0,1425.8 L1460.0,1425.7 L1463.0,1425.7 L1466.0,1425.6 L1469.0,1425.6 L1472.0,1425.5 L1475.0,1425.5 L1478.0,1425.4 L1481.0,1425.3 L1484.0,1425.3 L1487.0,1425.2 L1490.0,1425.2 L1493.0,1425.1 L1496.0,1425.1 L1499.0,1425.0 L1502.0,1425.0 L1505.0,1424.9 L1508.0,1424.8 L1511.0,1424.8 L1514.0,1424.7 L1517.0,1424.7 L1520.0,1424.6 L1523.0,1424.6 L1526.0,1424.5 L1529.0,1424.5 L1532.0,1424.4 L1535.0,1424.4 L1538.0,1424.3 L1541.0,1424.2 L1544.0,1424.2 L1547.0,1424.1 L1550.0,1424.1 L1553.0,1424.0 L1556.0,1424.0 L1559.0,1423.9 L1562.0,1423.9 L1565.0,1423.8 L1568.0,1423.8 L1571.0,1423.7 L1574.0,1423.7 L1577.0,1423.6 L1580.0,1423.6 L1583.0,1423.5 L1586.0,1423.5 L1589.0,1423.4 L1592.0,1423.3 L1595.0,1423.3 L1598.0,1423.2 L1601.0,1423.2 L1604.0,1423.1 L1607.0,1423.1 L1610.0,1423.0 L1613.0,1423.0 L1616.0,1422.9 L1619.0,1422.9 L1622.0,1422.8 L1625.0,1422.8 L1628.0,1422.7 L1631.0,1422.7 L1634.0,1422.6 L1637.0,1422.6 L1640.0,1422.5 L1643.0,1422.5 L1646.0,1422.4 L1649.0,1422.4 L1652.0,1422.3 L1655.0,1422.2 L1658.0,1422.2 L1661.0,1422.1 L1664.0,1422.1 L1667.0,1422.0 L1670.0,1422.0 L1673.0,1421.9 L1676.0,1421.9 L1679.0,1421.8 L1682.0,1421.8 L1685.0,1421.7 L1688.0,1421.7 L1691.0,1421.6 L1694.0,1421.6 L1697.0,1421.5 L1700.0,1421.5 L1703.0,1421.4 L1706.0,1421.4 L1709.0,1421.3 L1712.0,1421.3 L1715.0,1421.2 L1718.0,1421.2 L1721.0,1421.1 L1724.0,1421.0 L1727.0,1421.0 L1730.0,1420.9 L1733.0,1420.9 L1736.0,1420.8 L1739.0,1420.8 L1742.0,1420.7 L1745.0,1420.7 L1748.0,1420.6 L1751.0,1420.6 L1754.0,1420.5 L1757.0,1420.5 L1760.0,1420.4 L1763.0,1420.4 L1766.0,1420.3 L1769.0,1420.3 L1772.0,1420.2 L1775.0,1420.2 L1778.0,1420.1 L1781.0,1420.0 L1784.0,1420.0 L1787.0,1419.9 L1790.0,1419.9 L1793.0,1419.8 L1796.0,1419.8 L1799.0,1419.7 L1802.0,1419.7 L1805.0,1419.6 L1808.0,1419.6 L1811.0,1419.5 L1814.0,1419.5 L1817.0,1419.4 L1820.0,1419.4 L1823.0,1419.3 L1826.0,1419.2 L1829.0,1419.2 L1832.0,1419.1 L1835.0,1419.1 L1838.0,1419.0 L1841.0,1419.0 L1844.0,1418.9 L1847.0,1418.9 L1850.0,1418.8 L1853.0,1418.8 L1856.0,1418.7 L1859.0,1418.6 L1862.0,1418.6 L1865.0,1418.5 L1868.0,1418.5 L1871.0,1418.4 L1874.0,1418.4 L1877.0,1418.3 L1880.0,1418.3 L1883.0,1418.2 L1886.0,1418.1 L1889.0,1418.1 L1892.0,1418.0 L1895.0,1418.0 L1898.0,1417.9 L1901.0,1417.9 L1904.0,1417.8 L1907.0,1417.7 L1910.0,1417.7 L1913.0,1417.6 L1916.0,1417.6 L1919.0,1417.5 L1922.0,1417.5 L1925.0,1417.4 L1928.0,1417.3 L1931.0,1417.3 L1934.0,1417.2 L1937.0,1417.2 L1940.0,1417.1 L1943.0,1417.1 L1946.0,1417.0 L1949.0,1416.9 L1952.0,1416.9 L1955.0,1416.8 L1958.0,1416.8 L1961.0,1416.7 L1964.0,1416.6 L1967.0,1416.6 L1970.0,1416.5 L1973.0,1416.5 L1976.0,1416.4 L1979.0,1416.3 L1982.0,1416.3 L1985.0,1416.2 L1988.0,1416.2 L1991.0,1416.1 L1994.0,1416.0 L1997.0,1416.0 L2000.0,1415.9 L2003.0,1415.8 L2006.0,1415.8 L2009.0,1415.7 L2012.0,1415.7 L2015.0,1415.6 L2018.0,1415.5 L2021.0,1415.5 L2024.0,1415.4 L2027.0,1415.3 L2030.0,1415.3 L2033.0,1415.2 L2036.0,1415.2 L2039.0,1415.1 L2042.0,1415.0 L2045.0,1415.0 L2048.0,1414.9 L2051.0,1414.8 L2054.0,1414.8 L2057.0,1414.7 L2060.0,1414.6 L2063.0,1414.6 L2066.0,1414.5 L2069.0,1414.4 L2072.0,1414.4 L2075.0,1414.3 L2078.0,1414.2 L2081.0,1414.2 L2084.0,1414.1 L2087.0,1414.0 L2090.0,1414.0 L2093.0,1413.9 L2096.0,1413.8 L2099.0,1413.8 L2102.0,1413.7 L2105.0,1413.6 L2108.0,1413.6 L2111.0,1413.5 L2114.0,1413.4 L2117.0,1413.3 L2120.0,1413.3 L2123.0,1413.2 L2126.0,1413.1 L2129.0,1413.1 L2132.0,1413.0 L2135.0,1412.9 L2138.0,1412.8 L2141.0,1412.8 L2144.0,1412.7 L2147.0,1412.6 L2150.0,1412.6 L2153.0,1412.5 L2156.0,1412.4 L2159.0,1412.3 L2162.0,1412.3 L2165.0,1412.2 L2168.0,1412.1 L2171.0,1412.0 L2174.0,1412.0 L2177.0,1411.9 L2180.0,1411.8 L2183.0,1411.7 L2186.0,1411.7 L2189.0,1411.6 L2192.0,1411.5 L2195.0,1411.4 L2198.0,1411.4 L2201.0,1411.3 L2204.0,1411.2 L2207.0,1411.1 L2210.0,1411.0 L2213.0,1411.0 L2216.0,1410.9 L2219.0,1410.8 L2222.0,1410.7 L2225.0,1410.6 L2228.0,1410.6 L2231.0,1410.5 L2234.0,1410.4 L2237.0,1410.3 L2240.0,1410.2 L2243.0,1410.2 L2246.0,1410.1 L2249.0,1410.0 L2252.0,1409.9 L2255.0,1409.8 L2258.0,1409.7 L2261.0,1409.7 L2264.0,1409.6 L2267.0,1409.5 L2270.0,1409.4 L2273.0,1409.3 L2276.0,1409.2 L2279.0,1409.2 L2282.0,1409.1 L2285.0,1409.0 L2288.0,1408.9 L2291.0,1408.8 L2294.0,1408.7 L2297.0,1408.6 L2300.0,1408.5" stroke="#cc9a00"/>

</g>
<g fill="#000">
<rect x="397.1" y="58" width="5.2" height="1558" fill="#000"/>
<rect x="2290" y="58" width="5.9" height="1558.5" fill="#000"/>
<rect x="2295.9" y="58" width="2.6" height="1558.5" fill="#b5abb9"/>
<rect x="402.3" y="1581.2" width="1887.7" height="2.8" fill="#aaa6ae"/>
<rect x="386" y="1584" width="1910" height="5.4" fill="#000"/>
<rect x="396.9" y="1584" width="5.5" height="32.0"/><rect x="532.2" y="1584" width="5.5" height="16.0"/><rect x="667.4" y="1584" width="5.5" height="32.0"/><rect x="802.7" y="1584" width="5.5" height="16.0"/><rect x="937.9" y="1584" width="5.5" height="32.0"/><rect x="1073.1" y="1584" width="5.5" height="16.0"/><rect x="1208.4" y="1584" width="5.5" height="32.0"/><rect x="1343.6" y="1584" width="5.5" height="16.0"/><rect x="1478.8" y="1584" width="5.5" height="32.0"/><rect x="1614.1" y="1584" width="5.5" height="16.0"/><rect x="1749.3" y="1584" width="5.5" height="32.0"/><rect x="1884.5" y="1584" width="5.5" height="16.0"/><rect x="2019.8" y="1584" width="5.5" height="32.0"/><rect x="2155.0" y="1584" width="5.5" height="16.0"/><rect x="2290.2" y="1584" width="5.5" height="32.0"/><rect x="386.0" y="1583.8" width="13.7" height="5.3"/><rect x="370.0" y="1444.9" width="29.7" height="5.3"/><rect x="386.0" y="1306.1" width="13.7" height="5.3"/><rect x="370.0" y="1167.2" width="29.7" height="5.3"/><rect x="386.0" y="1028.3" width="13.7" height="5.3"/><rect x="370.0" y="889.4" width="29.7" height="5.3"/><rect x="386.0" y="750.6" width="13.7" height="5.3"/><rect x="370.0" y="611.7" width="29.7" height="5.3"/><rect x="386.0" y="472.8" width="13.7" height="5.3"/><rect x="370.0" y="333.9" width="29.7" height="5.3"/><rect x="386.0" y="195.1" width="13.7" height="5.3"/><rect x="370" y="55.4" width="1928.5" height="2.6" fill="#2f2f2f"/><rect x="370" y="58" width="1926" height="3" fill="#000"/><rect x="370" y="61" width="1926" height="2.7" fill="#4c4652"/>
</g>
<g font-size="89.5"><text transform="translate(348.3,1473.9) scale(0.95,1)" text-anchor="end">0</text><text transform="translate(348.3,1196.1) scale(0.95,1)" text-anchor="end">20</text><text transform="translate(348.3,918.4) scale(0.95,1)" text-anchor="end">40</text><text transform="translate(348.3,640.6) scale(0.95,1)" text-anchor="end">60</text><text transform="translate(348.3,362.9) scale(0.95,1)" text-anchor="end">80</text><text transform="translate(348.3,85.1) scale(0.95,1)" text-anchor="end">100</text></g>
<g font-size="89.5"><text transform="translate(399.7,1703.2) scale(0.955,1)" text-anchor="middle">200</text><text transform="translate(670.2,1703.2) scale(0.955,1)" text-anchor="middle">300</text><text transform="translate(940.6,1703.2) scale(0.955,1)" text-anchor="middle">400</text><text transform="translate(1211.1,1703.2) scale(0.955,1)" text-anchor="middle">500</text><text transform="translate(1481.6,1703.2) scale(0.955,1)" text-anchor="middle">600</text><text transform="translate(1752.1,1703.2) scale(0.955,1)" text-anchor="middle">700</text><text transform="translate(2022.5,1703.2) scale(0.955,1)" text-anchor="middle">800</text><text transform="translate(2293.0,1703.2) scale(0.955,1)" text-anchor="middle">900</text></g>
<text transform="translate(1347,1862.5) scale(0.99,1)" font-size="102.5" text-anchor="middle">Wavelength [nm]</text>
<text transform="translate(114.6,779) rotate(-90)" font-size="101.5" text-anchor="middle">Transmittance [%]</text>
<rect x="1696.9" y="297.35" width="537.5" height="457.9" fill="none" stroke="#000" stroke-width="2.8"/>
<g font-size="59.5"><rect x="1701" y="334.1" width="145.5" height="10.9" fill="#505252"/><text transform="translate(1858.5,360.8) scale(0.986,1)">Eb150</text><rect x="1701" y="410.4" width="145.5" height="10.9" fill="#f54242"/><text transform="translate(1858.5,436.0) scale(0.986,1)">Eb150+10%G</text><rect x="1701" y="484.1" width="145.5" height="10.9" fill="#146ade"/><text transform="translate(1858.5,511.0) scale(0.986,1)">Eb150+20%G</text><rect x="1701" y="560.5" width="145.5" height="10.9" fill="#31ad6b"/><text transform="translate(1858.5,586.2) scale(0.986,1)">Eb150+30%G</text><rect x="1701" y="634.1" width="145.5" height="10.9" fill="#b272de"/><text transform="translate(1858.5,661.1) scale(0.986,1)">Eb150+40%G</text><rect x="1701" y="710.4" width="145.5" height="10.9" fill="#cc9a00"/><text transform="translate(1858.5,736.2) scale(0.986,1)">Eb150+50%G</text></g>
</svg>
</body></html>
